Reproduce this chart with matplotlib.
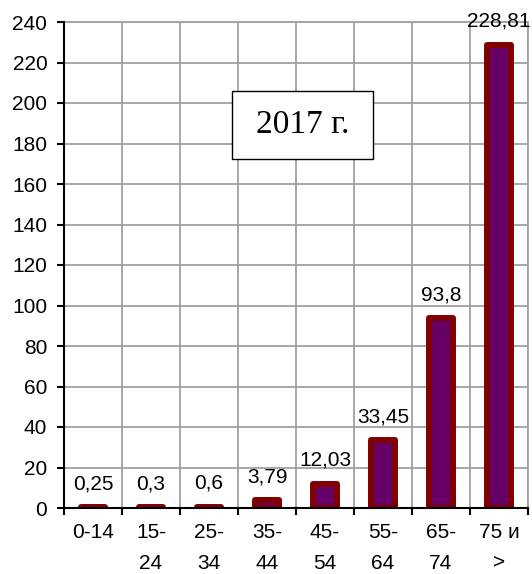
import numpy as np
import matplotlib
matplotlib.use("Agg")
import matplotlib.pyplot as plt
from matplotlib.patches import Rectangle

# age groups and values (2017)
groups = ['0-14', '15-\n24', '25-\n34', '35-\n44', '45-\n54', '55-\n64', '65-\n74', '75 и\n>']
values = [0.25, 0.3, 0.6, 3.79, 12.03, 33.45, 93.8, 228.81]
value_labels = ['0,25', '0,3', '0,6', '3,79', '12,03', '33,45', '93,8', '228,81']

plt.rcParams['font.family'] = ['Liberation Sans', 'DejaVu Sans']

fig = plt.figure(figsize=(5.32, 5.74), dpi=100)
ax = fig.add_axes([64/532, 66/574, 464/532, 486/574])

x = np.arange(len(values))
ax.bar(x, values, width=0.40, color='#660066', edgecolor='#800000', linewidth=4.3,
       joinstyle='round', zorder=3)

for xi, v, lab in zip(x, values, value_labels):
    ax.annotate(lab, (xi, v), xytext=(0, 10), textcoords='offset points',
                ha='center', va='bottom', fontsize=15, zorder=4)

ax.set_xlim(-0.5, len(values) - 0.5)
ax.set_ylim(0, 240)
ax.set_yticks(np.arange(0, 241, 20))
ax.set_xticks(x)
ax.set_xticklabels(groups, linespacing=1.75)
ax.set_xticks(np.arange(-0.5, len(values), 1), minor=True)

ax.grid(True, which='major', axis='y', color='#a0a0a0', linewidth=1.3, zorder=0)
ax.grid(True, which='minor', axis='x', color='#a0a0a0', linewidth=1.3, zorder=0)
ax.tick_params(axis='x', which='major', length=0, pad=11, labelsize=15)
ax.tick_params(axis='x', which='minor', length=5, width=1.5, direction='out')
ax.tick_params(axis='y', length=5, width=1.5, pad=7, labelsize=15)

for s in ['left', 'bottom']:
    ax.spines[s].set_color('black')
    ax.spines[s].set_linewidth(1.5)
    ax.spines[s].set_zorder(5)
for s in ['top', 'right']:
    ax.spines[s].set_color('#a0a0a0')
    ax.spines[s].set_linewidth(1.3)

# year box
ax.add_patch(Rectangle((0.362, 0.718), 0.304, 0.140, transform=ax.transAxes,
                       facecolor='white', edgecolor='black', linewidth=1.0, zorder=6))
ax.text(0.514, 0.788, '2017 г.', transform=ax.transAxes, ha='center', va='center',
        fontsize=24, family=['Liberation Serif', 'DejaVu Serif'], zorder=7)

fig.savefig('out.png', dpi=100)
